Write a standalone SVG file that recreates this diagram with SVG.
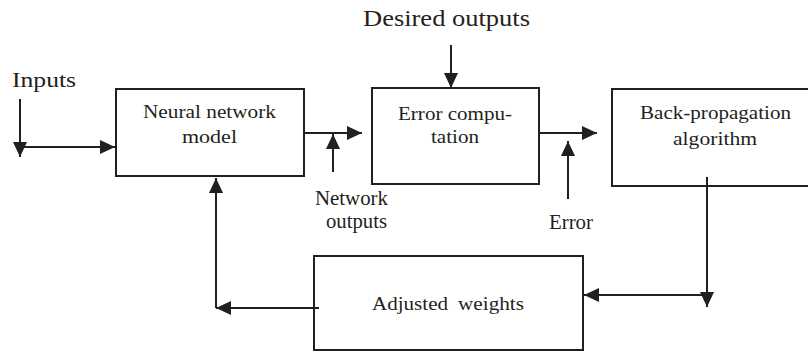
<svg xmlns="http://www.w3.org/2000/svg" width="808" height="352" viewBox="0 0 808 352">
  <style>
    .box { fill: #ffffff; stroke: #231f20; stroke-width: 2; }
    .wire { fill: none; stroke: #231f20; stroke-width: 2; marker-end: url(#head); }
    .t { font-family: 'Liberation Serif', 'Times New Roman', Times, serif; fill: #231f20; }
    .lbl { font-size: 19px; }
    .side { font-size: 20px; }
  </style>
  <defs>
    <marker id="head" markerUnits="userSpaceOnUse" viewBox="0 0 15 14" refX="15" refY="7" markerWidth="15" markerHeight="14" orient="auto">
      <path d="M0,0 L15,7 L0,14 z" fill="#231f20"/>
    </marker>
  </defs>
  <rect width="808" height="352" fill="#ffffff"/>

  <!-- free-standing labels -->
  <text class="t" x="12" y="87" font-size="22" textLength="64" lengthAdjust="spacingAndGlyphs">Inputs</text>
  <text class="t" x="363" y="26" font-size="24" textLength="167" lengthAdjust="spacingAndGlyphs">Desired outputs</text>
  <text class="t side" x="315" y="205" textLength="73" lengthAdjust="spacingAndGlyphs">Network</text>
  <text class="t side" x="326" y="228" textLength="61" lengthAdjust="spacingAndGlyphs">outputs</text>
  <text class="t side" x="549" y="229" textLength="44" lengthAdjust="spacingAndGlyphs">Error</text>

  <!-- nodes -->
  <g id="neural-network-model">
    <rect class="box" x="116" y="89" width="188" height="87"/>
    <text class="t lbl" x="143" y="118" textLength="133" lengthAdjust="spacingAndGlyphs">Neural network</text>
    <text class="t lbl" x="182" y="143" textLength="55" lengthAdjust="spacingAndGlyphs">model</text>
  </g>
  <g id="error-computation">
    <rect class="box" x="372" y="88" width="167" height="96"/>
    <text class="t lbl" x="398" y="120" textLength="114" lengthAdjust="spacingAndGlyphs">Error compu-</text>
    <text class="t lbl" x="431" y="143" textLength="48" lengthAdjust="spacingAndGlyphs">tation</text>
  </g>
  <g id="back-propagation">
    <rect class="box" x="612" y="89" width="210" height="97"/>
    <text class="t lbl" x="640" y="119" textLength="151" lengthAdjust="spacingAndGlyphs">Back-propagation</text>
    <text class="t lbl" x="673" y="145" textLength="84" lengthAdjust="spacingAndGlyphs">algorithm</text>
  </g>
  <g id="adjusted-weights">
    <rect class="box" x="314" y="256" width="269" height="94"/>
    <text class="t lbl" y="310"><tspan x="372" textLength="76" lengthAdjust="spacingAndGlyphs">Adjusted</tspan><tspan x="458" textLength="66" lengthAdjust="spacingAndGlyphs">weights</tspan></text>
  </g>

  <!-- connectors -->
  <g id="connectors">
    <path class="wire" d="M20,99 V157"/>
    <path class="wire" d="M20,147 H115"/>
    <path class="wire" d="M304,133 H362"/>
    <path class="wire" d="M333,172 V134"/>
    <path class="wire" d="M451,45 V88"/>
    <path class="wire" d="M539,133 H597"/>
    <path class="wire" d="M568,199 V141"/>
    <path class="wire" d="M707,177 V307"/>
    <path class="wire" d="M707,295 H584"/>
    <path class="wire" d="M319,308 H216"/>
    <path class="wire" d="M216,308 V178"/>
  </g>
</svg>
